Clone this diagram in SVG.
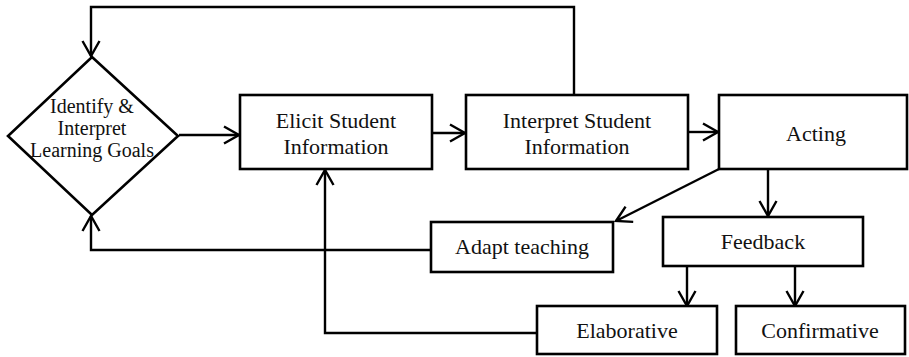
<svg xmlns="http://www.w3.org/2000/svg" width="909" height="357" viewBox="0 0 909 357">
<style>
.box{fill:#fff;stroke:#000;stroke-width:2.6}
.lbl{font-family:"Liberation Serif","Times New Roman",serif;font-size:22px;fill:#111;text-anchor:middle}
.dl{font-size:20px}
.con{fill:none;stroke:#000;stroke-width:2.4}
</style>
<defs>
<marker id="ah" markerUnits="userSpaceOnUse" markerWidth="20" markerHeight="20" viewBox="-16 -10 18 20" refX="0" refY="0" orient="auto">
<path d="M-15,-8.5 L0,0 L-15,8.5" fill="none" stroke="#000" stroke-width="2.4"/>
</marker>
</defs>
<g id="connectors">
<path class="con" d="M574,95 V7 H91 V56" marker-end="url(#ah)"/>
<path class="con" d="M179,135 H239" marker-end="url(#ah)"/>
<path class="con" d="M432,133 H465" marker-end="url(#ah)"/>
<path class="con" d="M688,132 H718" marker-end="url(#ah)"/>
<path class="con" d="M768,169 V216" marker-end="url(#ah)"/>
<path class="con" d="M719,169 L616,221" marker-end="url(#ah)"/>
<path class="con" d="M431,250 H91 V216" marker-end="url(#ah)"/>
<path class="con" d="M537,333 H325 V170" marker-end="url(#ah)"/>
<path class="con" d="M687,266 V306" marker-end="url(#ah)"/>
<path class="con" d="M795,266 V306" marker-end="url(#ah)"/>
</g>
<g id="identify">
<polygon class="box" points="92,57 178,136 92,215 8,136"/>
<text class="lbl dl" x="92" y="113">Identify &amp;</text>
<text class="lbl dl" x="92" y="135">Interpret</text>
<text class="lbl dl" x="92" y="157">Learning Goals</text>
</g>
<g id="elicit">
<rect class="box" x="240" y="95" width="192" height="74"/>
<text class="lbl" x="336" y="128">Elicit Student</text>
<text class="lbl" x="336" y="154">Information</text>
</g>
<g id="interpret">
<rect class="box" x="466" y="95" width="222" height="74"/>
<text class="lbl" x="577" y="128">Interpret Student</text>
<text class="lbl" x="577" y="154">Information</text>
</g>
<g id="acting">
<rect class="box" x="719" y="95" width="188" height="74"/>
<text class="lbl" x="816" y="141">Acting</text>
</g>
<g id="adapt">
<rect class="box" x="431" y="222" width="182" height="50"/>
<text class="lbl" x="522" y="254">Adapt teaching</text>
</g>
<g id="feedback">
<rect class="box" x="663" y="217" width="200" height="49"/>
<text class="lbl" x="763" y="249">Feedback</text>
</g>
<g id="elaborative">
<rect class="box" x="537" y="306" width="180" height="48"/>
<text class="lbl" x="627" y="338">Elaborative</text>
</g>
<g id="confirmative">
<rect class="box" x="736" y="306" width="169" height="48"/>
<text class="lbl" x="820" y="338">Confirmative</text>
</g>
</svg>
